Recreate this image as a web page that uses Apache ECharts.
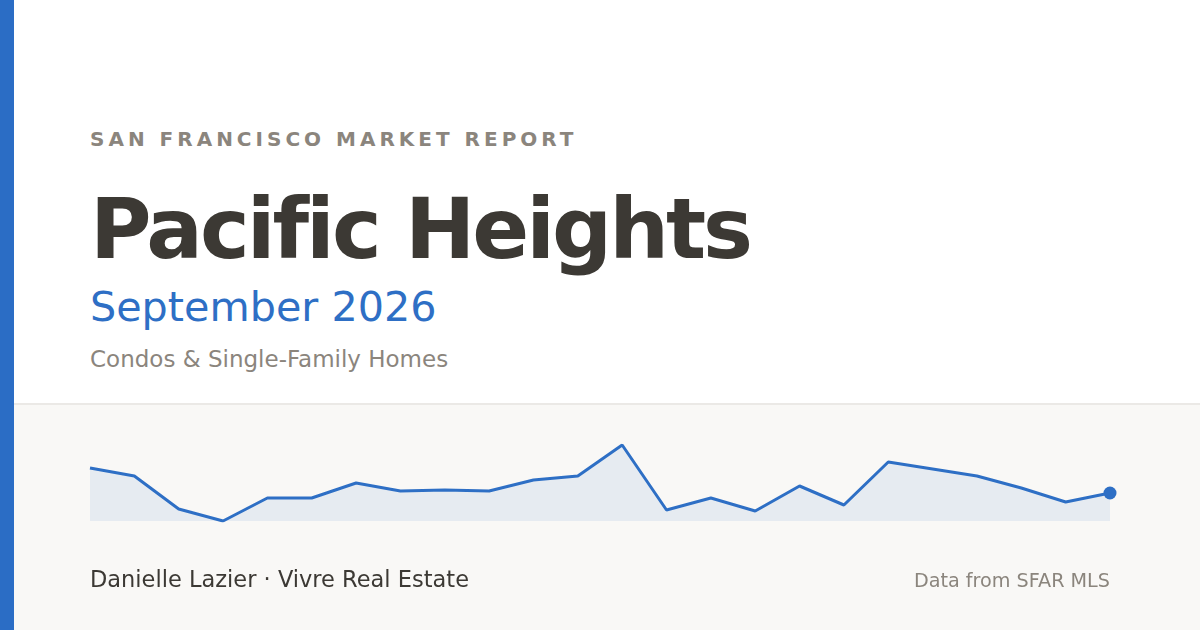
<!DOCTYPE html>
<html>
<head>
<meta charset="utf-8">
<script src="https://cdn.jsdelivr.net/npm/echarts@6/dist/echarts.min.js"></script>
<style>
  html, body { margin: 0; padding: 0; }
  body { width: 1200px; height: 630px; position: relative; overflow: hidden; background: #fff;
    font-family: "DejaVu Sans", sans-serif; }
  .accent { position: absolute; left: 0; top: 0; width: 14px; height: 630px; background: #2b6dc5; z-index: 3; }
  .panel { position: absolute; left: 0; top: 403px; width: 1200px; height: 227px; background: #f9f8f6;
    border-top: 2px solid #ebe9e6; box-sizing: border-box; }
  .txt { position: absolute; left: 90px; line-height: 1; white-space: nowrap; }
  .eyebrow { top: 129px; font-size: 20px; font-weight: bold; letter-spacing: 4px; color: #8b857d; }
  .title { top: 187px; font-size: 84px; font-weight: bold; letter-spacing: -3px; color: #3c3934; }
  .month { top: 287px; font-size: 41.3px; color: #2e6fc5; }
  .tagline { top: 348px; font-size: 23px; color: #8b857d; }
  .agent { top: 568px; font-size: 22.5px; color: #3c3934; }
  .source { top: 571px; left: auto; right: 90px; font-size: 19.2px; color: #8b857d; }
  #sparkline { position: absolute; left: 0; top: 405px; width: 1200px; height: 225px; }
</style>
</head>
<body>
<div class="accent"></div>
<div class="panel"></div>
<div class="txt eyebrow">SAN FRANCISCO MARKET REPORT</div>
<div class="txt title">Pacific Heights</div>
<div class="txt month">September 2026</div>
<div class="txt tagline">Condos &amp; Single-Family Homes</div>
<div id="sparkline"></div>
<div class="txt agent">Danielle Lazier · Vivre Real Estate</div>
<div class="txt source">Data from SFAR MLS</div>
<script>
  // 24 months of trend, last point = current month
  var months = ['Oct 24', 'Nov 24', 'Dec 24', 'Jan 25', 'Feb 25', 'Mar 25', 'Apr 25', 'May 25',
    'Jun 25', 'Jul 25', 'Aug 25', 'Sep 25', 'Oct 25', 'Nov 25', 'Dec 25', 'Jan 26',
    'Feb 26', 'Mar 26', 'Apr 26', 'May 26', 'Jun 26', 'Jul 26', 'Aug 26', 'Sep 26'];
  var priceTrend = [1053, 1045, 1012, 1000, 1023, 1023, 1038, 1030, 1031, 1030, 1041, 1045,
    1076, 1011, 1023, 1010, 1035, 1016, 1059, 1052, 1045, 1033, 1019, 1028];

  (function() {
    var chart = echarts.init(document.getElementById('sparkline'));
    var lastIdx = priceTrend.length - 1;

    chart.setOption({
      animation: false,
      grid: { left: 90, right: 90, top: 40, bottom: 109 },
      xAxis: { type: 'category', data: months, boundaryGap: false, show: false },
      yAxis: { type: 'value', min: 'dataMin', max: 'dataMax', show: false },
      series: [
        {
          type: 'line',
          data: priceTrend,
          symbol: 'none',
          lineStyle: { color: '#2e6fc5', width: 3 },
          areaStyle: { color: 'rgba(46,111,197,0.13)' },
        },
        {
          type: 'scatter',
          data: [[months[lastIdx], priceTrend[lastIdx]]],
          symbol: 'circle',
          symbolSize: 13,
          itemStyle: { color: '#2e6fc5', opacity: 1 },
        },
      ],
    });
  })();
</script>
</body>
</html>
